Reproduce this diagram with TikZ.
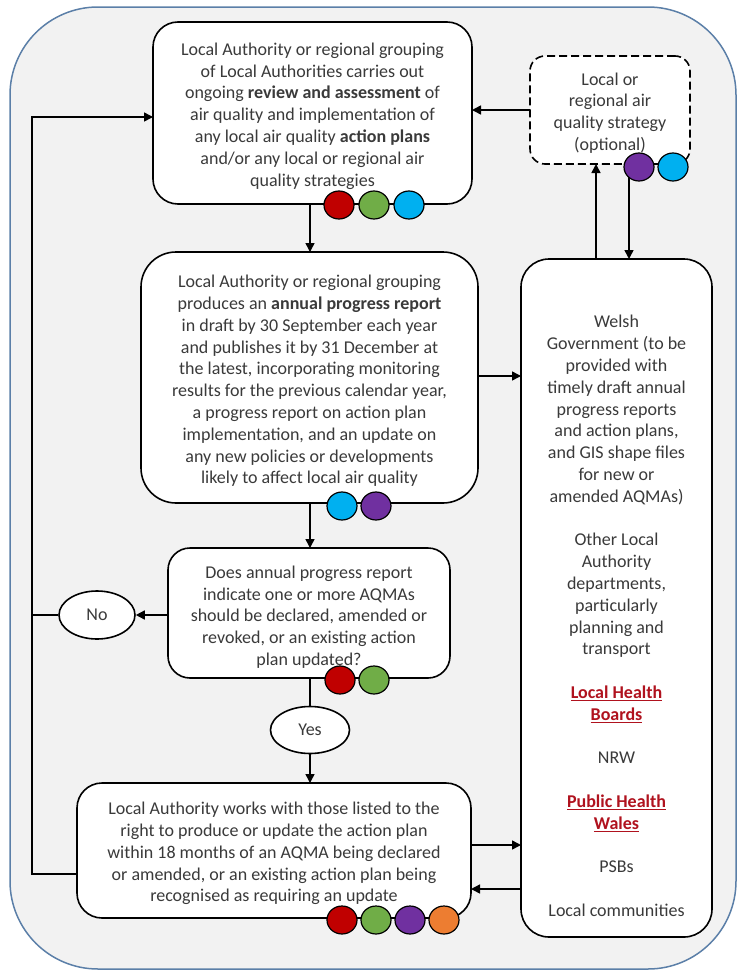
\documentclass[tikz,border=0pt]{standalone}
\usepackage{fontspec}
\setmainfont{Carlito}
\usetikzlibrary{arrows.meta,shapes.geometric}
\definecolor{txt}{HTML}{3A3A3A}
\definecolor{outerfill}{HTML}{F2F2F2}
\definecolor{outerline}{HTML}{5B7FA8}
\definecolor{cred}{HTML}{C00000}
\definecolor{cgreen}{HTML}{70AD47}
\definecolor{cblue}{HTML}{00B0F0}
\definecolor{cpurple}{HTML}{7030A0}
\definecolor{corange}{HTML}{ED7D31}
\definecolor{linkred}{HTML}{B0121E}
\newcommand{\lnk}[1]{\textcolor{linkred}{\textbf{\underline{#1}}}}
\begin{document}
\begin{tikzpicture}[x=1pt,y=-1pt,
  box/.style={draw=black, line width=1.6pt, fill=white, inner sep=0pt, outer sep=0pt},
  txtnode/.style={font=\fontsize{18}{21.8}\selectfont, text=txt, align=center, inner sep=0pt},
  dot/.style={ellipse, draw=black, line width=1.2pt, minimum width=30pt, minimum height=28pt, inner sep=0pt},
  oval/.style={ellipse, draw=black, line width=1.6pt, fill=white, inner sep=0pt, font=\fontsize{18}{21.8}\selectfont, text=txt},
  arr/.style={line width=1.5pt, -{Triangle[length=9pt,width=9pt]}},
  ln/.style={line width=1.5pt}]
\useasboundingbox (0,0) rectangle (737,972);
\draw[fill=outerfill, draw=outerline, line width=1.5pt, rounded corners=88pt] (10,7) rectangle (736,969);

% boxes
\node[box, rounded corners=25pt, minimum width=319pt, minimum height=182pt] (b1) at (312.5,113) {};
\node[box, rounded corners=35pt, minimum width=337pt, minimum height=251pt] (b2) at (309.5,377.5) {};
\node[box, rounded corners=22pt, minimum width=282pt, minimum height=130pt] (b3) at (309,613) {};
\node[box, rounded corners=25pt, minimum width=394pt, minimum height=135pt] (b4) at (274,850.5) {};
\node[box, dash pattern=on 8pt off 4pt, rounded corners=15pt, minimum width=160pt, minimum height=108pt] (db) at (610,110) {};
\node[box, rounded corners=28pt, minimum width=191pt, minimum height=678pt] (rb) at (616.5,598) {};
\node[oval, minimum width=76pt, minimum height=48pt] (no) at (97,615) {No};
\node[oval, minimum width=79pt, minimum height=47pt] (yes) at (310,730) {Yes};

% texts
\node[txtnode] (t1) at (312.5,116) {Local Authority or regional grouping\\of Local Authorities carries out\\ongoing \textbf{review and assessment} of\\air quality and implementation of\\any local air quality \textbf{action plans}\\and/or any local or regional air\\quality strategies};
\node[txtnode] (t2) at (309.5,381) {Local Authority or regional grouping\\produces an \textbf{annual progress report}\\in draft by 30 September each year\\and publishes it by 31 December at\\the latest, incorporating monitoring\\results for the previous calendar year,\\a progress report on action plan\\implementation, and an update on\\any new policies or developments\\likely to affect local air quality};
\node[txtnode] (t3) at (309,617) {Does annual progress report\\indicate one or more AQMAs\\should be declared, amended or\\revoked, or an existing action\\plan updated?};
\node[txtnode] (t4) at (274,853.5) {Local Authority works with those listed to the\\right to produce or update the action plan\\within 18 months of an AQMA being declared\\or amended, or an existing action plan being\\recognised as requiring an update};
\node[txtnode] (td) at (610,113) {Local or\\regional air\\quality strategy\\(optional)};
\node[txtnode] (tr) at (616.5,616) {Welsh\\Government (to be\\provided with\\timely draft annual\\progress reports\\and action plans,\\and GIS shape files\\for new or\\amended AQMAs)\\[21.8pt]Other Local\\Authority\\departments,\\particularly\\planning and\\transport\\[21.8pt]\lnk{Local Health}\\\lnk{Boards}\\[21.8pt]NRW\\[21.8pt]\lnk{Public Health}\\\lnk{Wales}\\[21.8pt]PSBs\\[21.8pt]Local communities};

% helper coordinates
\coordinate (lbot) at (32,874);
\coordinate (ltop) at (32,117);
\coordinate (vup) at (596,0);
\coordinate (vdn) at (629,0);
\coordinate (r0) at (0,376);
\coordinate (r1) at (0,845);
\coordinate (r2) at (0,889);

% connectors
\draw[arr] (b1.south -| yes) -- (b2.north -| yes);
\draw[arr] (b2.south -| yes) -- (b3.north -| yes);
\draw[ln] (b3.south -| yes) -- (yes.north);
\draw[arr] (yes.south) -- (b4.north -| yes);
\draw[arr] (b3.west |- no) -- (no.east);
\draw[ln] (no.west) -- (no.west -| lbot);
\draw[arr] (b4.west |- lbot) -- (lbot) -- (ltop) -- (b1.west |- ltop);
\draw[arr] (b2.east |- r0) -- (rb.west |- r0);
\draw[arr] (b4.east |- r1) -- (rb.west |- r1);
\draw[arr] (rb.west |- r2) -- (b4.east |- r2);
\draw[arr] (db.west) -- (b1.east |- db.west);
\draw[arr] (rb.north -| vup) -- (db.south -| vup);

% dots
\node[dot, fill=cred] (d1a) at (339,205) {};
\node[dot, fill=cgreen] (d1b) at (374,205) {};
\node[dot, fill=cblue] (d1c) at (409,205) {};
\coordinate (dpc) at (639,167);
\draw[arr] (dpc -| vdn) -- (rb.north -| vdn);
\node[dot, fill=cpurple] (dpa) at (dpc) {};
\node[dot, fill=cblue] (dpb) at (673,167) {};
\node[dot, fill=cblue] (d2a) at (342,506) {};
\node[dot, fill=cpurple] (d2b) at (376,506) {};
\node[dot, fill=cred] (d3a) at (340,680) {};
\node[dot, fill=cgreen] (d3b) at (374,680) {};
\node[dot, fill=cred] (d4a) at (342,920) {};
\node[dot, fill=cgreen] (d4b) at (376,920) {};
\node[dot, fill=cpurple] (d4c) at (410,920) {};
\node[dot, fill=corange] (d4d) at (444,920) {};
\end{tikzpicture}
\end{document}
